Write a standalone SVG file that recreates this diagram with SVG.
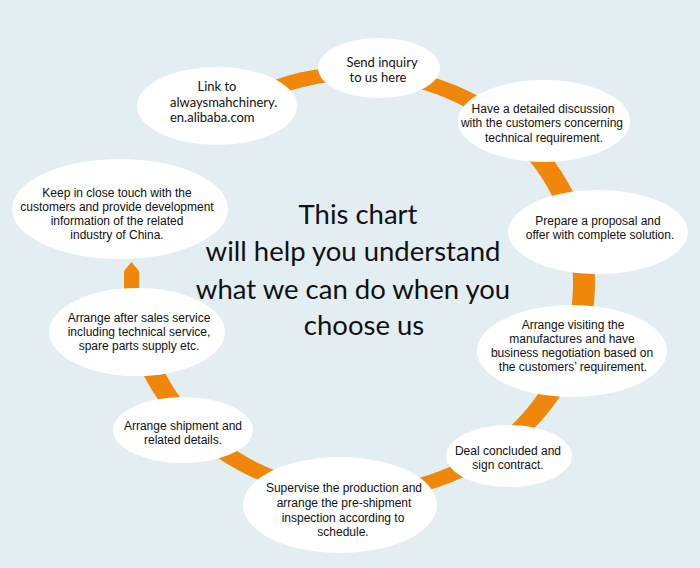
<svg xmlns="http://www.w3.org/2000/svg" width="700" height="568" viewBox="0 0 700 568">
<style>
.bg{fill:#e3eef3}
.node{fill:#ffffff}
.ring{fill:#f0870a}
.t{font-family:"Liberation Sans",Arial,sans-serif;font-size:12px;fill:#111;text-anchor:middle}
.c{font-family:Lato,"Open Sans",sans-serif;font-size:13px;fill:#111;text-anchor:middle}
.title{font-family:Lato,"Open Sans",sans-serif;font-size:27.5px;fill:#111;text-anchor:middle}
</style>
<rect class="bg" x="0" y="0" width="700" height="568"/>
<g id="connectors">
<path class="ring" d="M208,115 A237,217 0 1 1 121.9,301.9 L143.8,300.7 A215,203 0 1 0 222,126 Z"/>
<polygon class="ring" points="124,300 124,271 131.5,262 139,271 139,300"/>
</g>
<g id="title">
<text class="title" x="358" y="224">This chart</text>
<text class="title" x="353" y="261">will help you understand</text>
<text class="title" x="353" y="299">what we can do when you</text>
<text class="title" x="364" y="335">choose us</text>
</g>
<g id="n1">
<ellipse class="node" cx="379" cy="68" rx="61" ry="30"/>
<text class="c" x="382" y="67">Send inquiry</text>
<text class="c" x="378" y="82">to us here</text>
</g>
<g id="n2">
<ellipse class="node" cx="544" cy="121" rx="86" ry="41"/>
<text class="t" x="543" y="113">Have a detailed discussion</text>
<text class="t" x="542" y="127">with the customers concerning</text>
<text class="t" x="544" y="142">technical requirement.</text>
</g>
<g id="n3">
<ellipse class="node" cx="598" cy="232" rx="90" ry="42"/>
<text class="t" x="598" y="225">Prepare a proposal and</text>
<text class="t" x="600" y="239">offer with complete solution.</text>
</g>
<g id="n4">
<ellipse class="node" cx="572" cy="351" rx="95" ry="46"/>
<text class="t" x="573" y="329">Arrange visiting the</text>
<text class="t" x="572" y="343">manufactures and have</text>
<text class="t" x="572" y="357">business negotiation based on</text>
<text class="t" x="573" y="371">the customers’ requirement.</text>
</g>
<g id="n5">
<ellipse class="node" cx="509" cy="456" rx="63" ry="31"/>
<text class="t" x="508" y="455">Deal concluded and</text>
<text class="t" x="508" y="469">sign contract.</text>
</g>
<g id="n6">
<ellipse class="node" cx="340" cy="505" rx="97" ry="48"/>
<text class="t" x="344" y="492">Supervise the production and</text>
<text class="t" x="344" y="507">arrange the pre-shipment</text>
<text class="t" x="343" y="522">inspection according to</text>
<text class="t" x="343" y="536">schedule.</text>
</g>
<g id="n7">
<ellipse class="node" cx="183" cy="430" rx="70" ry="33"/>
<text class="t" x="183" y="430">Arrange shipment and</text>
<text class="t" x="183" y="444">related details.</text>
</g>
<g id="n8">
<ellipse class="node" cx="137" cy="332" rx="88" ry="44"/>
<text class="t" x="139" y="322">Arrange after sales service</text>
<text class="t" x="139" y="336">including technical service,</text>
<text class="t" x="139" y="350">spare parts supply etc.</text>
</g>
<g id="n9">
<ellipse class="node" cx="120" cy="209" rx="108" ry="50"/>
<text class="t" x="117" y="197">Keep in close touch with the</text>
<text class="t" x="117" y="211">customers and provide development</text>
<text class="t" x="117" y="225">information of the related</text>
<text class="t" x="117" y="239">industry of China.</text>
</g>
<g id="n10">
<ellipse class="node" cx="217" cy="106" rx="80" ry="39"/>
<text class="c" x="217" y="91">Link to</text>
<text class="c" x="170" y="107" style="text-anchor:start">alwaysmahchinery.</text>
<text class="c" x="170" y="122" style="text-anchor:start">en.alibaba.com</text>
</g>
</svg>
